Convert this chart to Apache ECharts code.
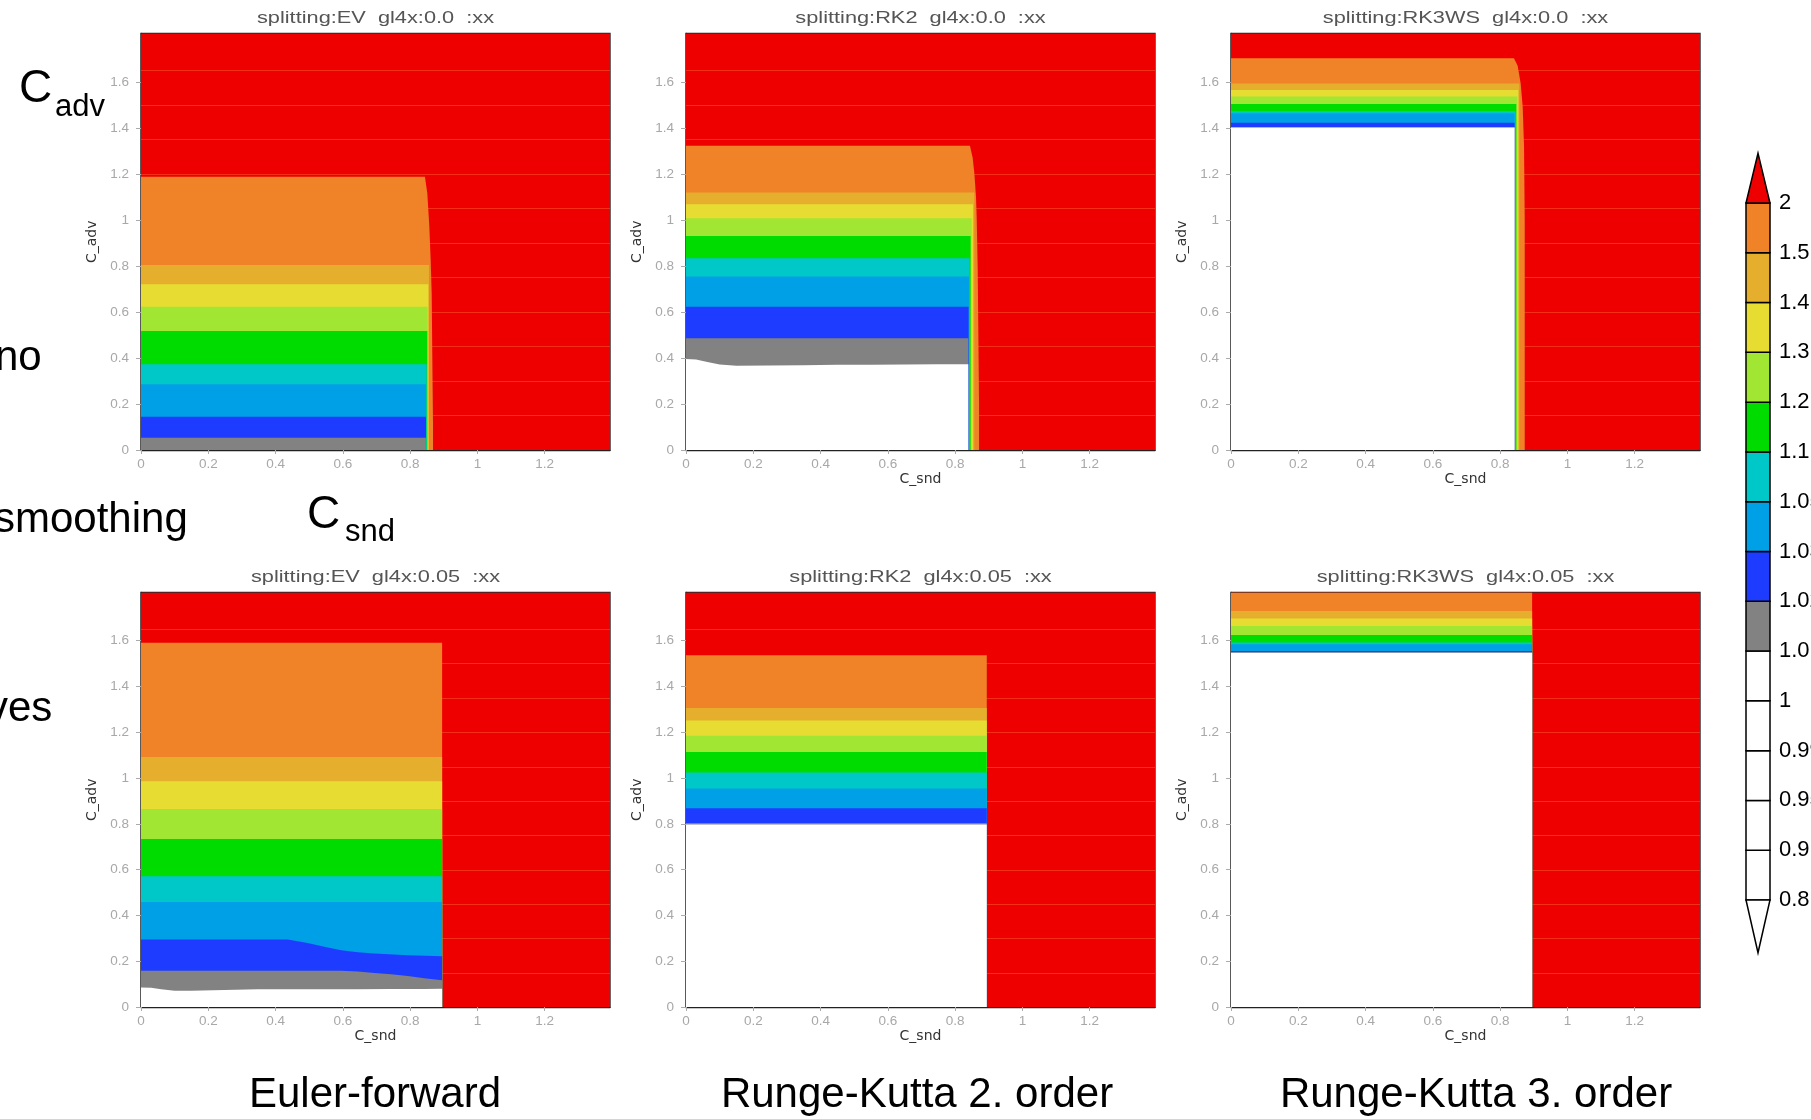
<!DOCTYPE html>
<html>
<head>
<meta charset="utf-8">
<script src="https://cdn.jsdelivr.net/npm/echarts@6/dist/echarts.min.js"></script>
<style>
  html, body { margin: 0; padding: 0; background: #ffffff; }
  #chart { width: 1811px; height: 1119px; }
</style>
</head>
<body>
<div id="chart"></div>
<script>
// ---- contour levels and colours (colour bar, bottom to top) ----
const levelLabels = ['0.8', '0.9', '0.95', '0.99', '1', '1.01', '1.02', '1.03', '1.05', '1.1', '1.2', '1.3', '1.4', '1.5', '2'];
const levelColors = ['#ffffff', '#ffffff', '#ffffff', '#ffffff', '#ffffff', '#828282', '#1e3cff', '#00a0e6', '#00c8c8', '#00dc00', '#a0e632', '#e6dc32', '#e6ae2d', '#f08228'];
const overColor = '#ee0000';
// bands inside each panel, outermost (< 2) first
const bandColors = levelColors.slice(4).reverse();

// ---- axes ----
const xTickValues = [0, 0.2, 0.4, 0.6, 0.8, 1, 1.2];
const yTickValues = [0, 0.2, 0.4, 0.6, 0.8, 1, 1.2, 1.4, 1.6];
const xMax = 1.394;
const yMax = 1.81;

// faint raster rows visible in the saturated region
const rowLevels = [0.15, 0.3, 0.45, 0.6, 0.75, 0.9, 1.05, 1.2, 1.35, 1.5, 1.65];

const panelTitles = [
  'splitting:EV  gl4x:0.0  :xx',
  'splitting:RK2  gl4x:0.0  :xx',
  'splitting:RK3WS  gl4x:0.0  :xx',
  'splitting:EV  gl4x:0.05  :xx',
  'splitting:RK2  gl4x:0.05  :xx',
  'splitting:RK3WS  gl4x:0.05  :xx'
];
const rowLabels = ['Euler-forward', 'Runge-Kutta 2. order', 'Runge-Kutta 3. order'];

// ---- stability regions: top (C_adv) and right edge (C_snd) of every band ----
// Euler-forward, gl4x 0.0
const ev00Tops = [1.188, 0.804, 0.720, 0.623, 0.517, 0.373, 0.286, 0.145, 0.053, null];
const ev00Rights = [0.868, 0.856, 0.854, 0.852, 0.851, 0.849, 0.847, 0.847, 0.847, 0.847];
const ev00Corner = [[0.844, 1.188], [0.851, 1.116], [0.857, 0.971], [0.861, 0.826], [0.864, 0.681], [0.865, 0.536], [0.866, 0.391], [0.867, 0.246], [0.868, 0.101], [0.868, 0]];

// Runge-Kutta 2, gl4x 0.0
const rk200WhiteTop = [[0, 0.395], [0.03, 0.393], [0.06, 0.383], [0.1, 0.372], [0.15, 0.366], [0.25, 0.367], [0.35, 0.368], [0.45, 0.37], [0.55, 0.371], [0.65, 0.372], [0.75, 0.373], [0.839, 0.373]];
const rk200Tops = [1.322, 1.119, 1.068, 1.007, 0.930, 0.833, 0.754, 0.623, 0.486, rk200WhiteTop];
const rk200Rights = [0.871, 0.857, 0.853, 0.849, 0.846, 0.843, 0.841, 0.840, 0.839, 0.839];
const rk200Corner = [[0.844, 1.322], [0.852, 1.27], [0.857, 1.204], [0.862, 1.10], [0.864, 1.01], [0.867, 0.79], [0.869, 0.5], [0.871, 0.2], [0.871, 0]];

// Runge-Kutta 3 (Wicker-Skamarock), gl4x 0.0
const rk300Tops = [1.702, 1.593, 1.565, 1.536, 1.504, 1.473, 1.463, 1.422, 1.403, 1.401];
const rk300Rights = [0.873, 0.857, 0.854, 0.851, 0.848, 0.845, 0.843, 0.843, 0.843, 0.843];
const rk300Corner = [[0.841, 1.702], [0.852, 1.67], [0.861, 1.593], [0.867, 1.492], [0.871, 1.318], [0.873, 1.0], [0.873, 0]];

// Euler-forward, gl4x 0.05
const ev05DarkBlueTop = [[0, 0.295], [0.436, 0.295], [0.495, 0.28], [0.545, 0.263], [0.595, 0.248], [0.644, 0.239], [0.694, 0.234], [0.793, 0.226], [0.895, 0.222]];
const ev05GrayTop = [[0, 0.158], [0.595, 0.158], [0.644, 0.155], [0.694, 0.149], [0.743, 0.143], [0.793, 0.135], [0.842, 0.125], [0.895, 0.117]];
const ev05WhiteTop = [[0, 0.085], [0.03, 0.084], [0.06, 0.077], [0.1, 0.071], [0.149, 0.071], [0.248, 0.074], [0.347, 0.077], [0.446, 0.078], [0.545, 0.077], [0.644, 0.078], [0.743, 0.079], [0.842, 0.079], [0.895, 0.08]];
const ev05Tops = [1.591, 1.092, 0.986, 0.865, 0.734, 0.571, 0.459, ev05DarkBlueTop, ev05GrayTop, ev05WhiteTop];
const ev05Rights = [0.895, 0.895, 0.895, 0.895, 0.895, 0.895, 0.895, 0.895, 0.895, 0.895];

// Runge-Kutta 2, gl4x 0.05
const rk205Tops = [1.536, 1.306, 1.251, 1.185, 1.113, 1.024, 0.954, 0.868, 0.804, 0.797];
const rk205Rights = [0.894, 0.894, 0.894, 0.894, 0.894, 0.894, 0.894, 0.894, 0.894, 0.894];

// Runge-Kutta 3 (Wicker-Skamarock), gl4x 0.05
const rk305Tops = [1.81, 1.729, 1.697, 1.664, 1.624, 1.592, 1.584, 1.555, 1.549, 1.547];
const rk305Rights = [0.895, 0.895, 0.895, 0.895, 0.895, 0.895, 0.895, 0.895, 0.895, 0.895];

const panelTops = [ev00Tops, rk200Tops, rk300Tops, ev05Tops, rk205Tops, rk305Tops];
const panelRights = [ev00Rights, rk200Rights, rk300Rights, ev05Rights, rk205Rights, rk305Rights];
const panelCorners = [ev00Corner, rk200Corner, rk300Corner, null, null, null];

// ---- layout ----
const gridLefts = [141, 686, 1231];
const gridTops = [33.5, 592.5];
const gridHeights = [416.5, 414.5];
const gridWidth = 469;
const FONT = "'Liberation Sans', Arial, sans-serif";

// polygon (data coordinates) of the region below one contour level
function bandPolygon(top, right, corner) {
  const pts = [[0, 0]];
  if (Array.isArray(top)) {
    top.forEach(p => pts.push(p));
    pts.push([right, 0]);
  } else if (corner) {
    pts.push([0, top]);
    corner.forEach(p => pts.push(p));
  } else {
    pts.push([0, top], [right, top], [right, 0]);
  }
  return pts;
}

const grids = [], xAxes = [], yAxes = [], series = [], graphics = [];

for (let p = 0; p < 6; p++) {
  const row = Math.floor(p / 3), col = p % 3;
  grids.push({
    left: gridLefts[col], top: gridTops[row], width: gridWidth, height: gridHeights[row],
    outerBoundsMode: 'none', containLabel: false,
    show: true, borderColor: '#2a2a2a', borderWidth: 1.4, backgroundColor: 'transparent'
  });
  xAxes.push({
    gridIndex: p, type: 'value', min: 0, max: xMax,
    name: p === 0 ? '' : 'C_snd', nameLocation: 'middle', nameGap: 20,
    nameTextStyle: { fontFamily: "'DejaVu Sans', sans-serif", fontSize: 14, color: '#333' },
    axisLine: { show: true, lineStyle: { color: '#222', width: 1.4 } },
    axisTick: { show: true, length: 4, customValues: xTickValues, lineStyle: { color: '#aaa' } },
    axisLabel: { customValues: xTickValues, formatter: v => String(v), margin: 7, fontSize: 13.5, color: '#a8a8a8', fontFamily: FONT },
    splitLine: { show: false }
  });
  yAxes.push({
    gridIndex: p, type: 'value', min: 0, max: yMax,
    name: 'C_adv', nameLocation: 'middle', nameGap: 42, nameRotate: 90,
    nameTextStyle: { fontFamily: "'DejaVu Sans', sans-serif", fontSize: 14, color: '#333' },
    axisLine: { show: true, lineStyle: { color: '#222', width: 1.4 } },
    axisTick: { show: true, length: 5, customValues: yTickValues, lineStyle: { color: '#aaa' } },
    axisLabel: { customValues: yTickValues, formatter: v => String(v), margin: 12, fontSize: 13.5, color: '#a8a8a8', fontFamily: FONT },
    splitLine: { show: false }
  });

  // saturated background (value above the top level)
  series.push({
    type: 'custom', xAxisIndex: p, yAxisIndex: p, silent: true, clip: true,
    data: [[0, 0]],
    renderItem: (params) => {
      const cs = params.coordSys;
      return { type: 'rect', shape: { x: cs.x, y: cs.y, width: cs.width, height: cs.height }, style: { fill: overColor } };
    }
  });
  // faint rows across the saturated region
  series.push({
    type: 'custom', xAxisIndex: p, yAxisIndex: p, silent: true, clip: true,
    data: rowLevels.map(v => [0, v]),
    renderItem: (params, api) => {
      const a = api.coord([0, api.value(1)]);
      const b = api.coord([xMax, api.value(1)]);
      return { type: 'line', shape: { x1: a[0], y1: Math.round(a[1]) + 0.5, x2: b[0], y2: Math.round(b[1]) + 0.5 },
        style: { stroke: 'rgba(255,150,70,0.32)', lineWidth: 1 } };
    }
  });
  // contour bands, outermost first
  const polys = [], cols = [];
  panelTops[p].forEach((t, i) => {
    if (t === null) return;
    polys.push(bandPolygon(t, panelRights[p][i], i === 0 ? panelCorners[p] : null));
    cols.push(bandColors[i]);
  });
  series.push({
    type: 'custom', xAxisIndex: p, yAxisIndex: p, silent: true, clip: true,
    data: polys.map((_, i) => [0, i]),
    renderItem: (params, api) => {
      const i = params.dataIndex;
      return { type: 'polygon', shape: { points: polys[i].map(pt => api.coord(pt)) }, style: { fill: cols[i] } };
    }
  });

  // panel title
  graphics.push({
    type: 'text', x: gridLefts[col] + gridWidth / 2, y: row === 0 ? 18 : 577, scaleX: 1.28,
    style: { text: panelTitles[p], fontFamily: FONT, fontSize: 17, fill: '#555', align: 'center', verticalAlign: 'middle' }
  });
}

// ---- colour bar ----
grids.push({ left: 1746, top: 203, width: 24, height: 697, show: false, outerBoundsMode: 'none', containLabel: false });
xAxes.push({ gridIndex: 6, type: 'value', min: 0, max: 1, show: false });
yAxes.push({
  gridIndex: 6, type: 'value', min: 0, max: levelColors.length, interval: 1, position: 'right',
  axisLine: { show: false },
  axisTick: { show: true, length: 3, lineStyle: { color: '#000', width: 1.5 } },
  axisLabel: { formatter: v => levelLabels[v], margin: 9, fontSize: 22, color: '#000', fontFamily: FONT },
  splitLine: { show: false }
});
series.push({
  type: 'custom', xAxisIndex: 6, yAxisIndex: 6, silent: true, clip: false,
  data: levelColors.map((c, i) => [0, i]),
  renderItem: (params, api) => {
    const i = params.dataIndex;
    const a = api.coord([0, i + 1]);
    const b = api.coord([1, i]);
    return { type: 'rect', shape: { x: a[0], y: a[1], width: b[0] - a[0], height: b[1] - a[1] },
      style: { fill: levelColors[i], stroke: '#000', lineWidth: 1.5 } };
  }
});
// end triangles: above the top level and below the lowest one
const capTips = [levelColors.length + 1.0, -1.06];
series.push({
  type: 'custom', xAxisIndex: 6, yAxisIndex: 6, silent: true, clip: false,
  data: [[0, 0], [0, 1]],
  renderItem: (params, api) => {
    const top = params.dataIndex === 0;
    const base = top ? levelColors.length : 0;
    const pts = [api.coord([0, base]), api.coord([1, base]), api.coord([0.5, capTips[params.dataIndex]])];
    return { type: 'polygon', shape: { points: pts }, style: { fill: top ? overColor : '#ffffff', stroke: '#000', lineWidth: 1.5 } };
  }
});

// ---- slide annotations (y given as text baseline) ----
function txt(text, x, baseline, size, align) {
  return { type: 'text', x: x, y: baseline - 0.3465 * size,
    style: { text: text, fontFamily: FONT, fontSize: size, fill: '#000', align: align || 'left', verticalAlign: 'middle' } };
}
graphics.push(txt('C', 19, 105, 46));
graphics.push(txt('adv', 55, 118, 31));
graphics.push(txt('no', -5, 373, 42));
graphics.push(txt('smoothing', -6, 535, 42));
graphics.push(txt('ves', -13, 724, 42));
graphics.push(txt('C', 307, 531, 46));
graphics.push(txt('snd', 345, 543, 31));
graphics.push(txt(rowLabels[0], 375, 1110, 42, 'center'));
graphics.push(txt(rowLabels[1], 917, 1110, 42, 'center'));
graphics.push(txt(rowLabels[2], 1476, 1110, 42, 'center'));

const chart = echarts.init(document.getElementById('chart'), null, { renderer: 'canvas' });
chart.setOption({
  animation: false,
  backgroundColor: '#ffffff',
  grid: grids,
  xAxis: xAxes,
  yAxis: yAxes,
  series: series,
  graphic: graphics
});
</script>
</body>
</html>
